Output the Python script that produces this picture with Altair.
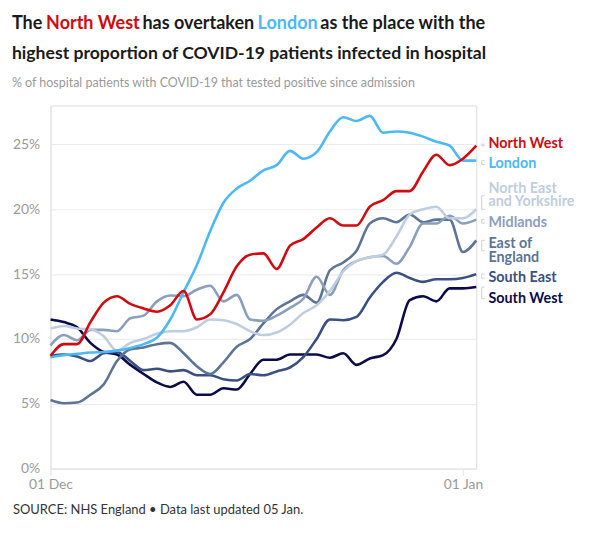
import altair as alt
import pandas as pd

# ---------------- data ----------------
dates = pd.date_range("2020-12-01", "2021-01-02", freq="D").strftime("%Y-%m-%d").tolist()

regions = ["North West", "London", "North East and Yorkshire", "Midlands",
           "East of England", "South East", "South West"]

north_west = [8.7, 9.6, 9.6, 11.3, 12.8, 13.3, 12.7, 12.35, 12.1, 12.6, 13.7, 11.5, 11.9,
              13.6, 15.6, 16.5, 16.6, 15.4, 17.2, 17.7, 18.6, 19.3, 18.75, 18.75, 20.2,
              20.7, 21.4, 21.4, 22.9, 24.2, 23.4, 23.9, 24.9]
london = [8.6, 8.75, 8.85, 8.95, 9.0, 9.1, 9.3, 9.6, 10.1, 11.5, 13.6, 15.7, 18.3, 20.5,
          21.6, 22.2, 23.0, 23.4, 24.5, 23.9, 24.4, 26.0, 27.1, 26.8, 27.2, 25.9, 26.0,
          25.9, 25.6, 25.2, 24.9, 23.75, 23.75]
north_east_yorks = [10.8, 11.0, 10.8, 10.75, 10.2, 9.1, 9.7, 10.0, 10.4, 10.6, 10.6, 10.9,
                    11.5, 11.45, 11.15, 10.6, 10.3, 10.5, 11.1, 12.0, 12.6, 13.7, 15.2,
                    16.0, 16.3, 16.5, 17.9, 19.6, 20.0, 20.2, 19.3, 19.3, 20.0]
midlands = [9.5, 10.3, 9.9, 10.7, 10.7, 10.6, 11.6, 11.8, 12.9, 13.35, 13.3, 13.8, 14.1,
            12.9, 13.4, 11.5, 11.4, 11.8, 12.4, 13.1, 14.8, 13.4, 15.3, 16.0, 16.3, 16.4,
            15.8, 17.1, 18.9, 18.9, 19.5, 18.9, 19.2]
east_of_england = [5.3, 5.05, 5.1, 5.7, 6.5, 8.3, 9.2, 9.35, 9.6, 9.7, 8.9, 7.9, 7.3, 8.2,
                   9.4, 10.0, 11.2, 12.3, 12.9, 13.4, 12.8, 15.3, 15.9, 16.8, 18.9, 19.3,
                   19.0, 19.6, 19.0, 19.2, 19.2, 16.7, 17.6]
south_east = [8.7, 8.8, 8.65, 8.3, 8.9, 9.0, 8.3, 7.6, 7.7, 7.5, 7.6, 7.2, 7.2, 6.9, 6.8,
              7.3, 7.2, 7.5, 7.8, 8.6, 10.0, 11.5, 11.45, 11.7, 13.2, 14.4, 15.1, 14.7,
              14.4, 14.6, 14.6, 14.7, 15.0]
south_west = [11.5, 11.3, 10.9, 9.7, 9.0, 8.8, 8.0, 7.3, 6.65, 6.3, 6.7, 5.7, 5.7, 6.2, 6.1,
              7.3, 8.4, 8.4, 8.8, 8.8, 8.8, 8.55, 8.9, 8.0, 8.5, 8.75, 10.0, 13.0, 13.3,
              12.9, 13.9, 13.9, 14.0]

series = [north_west, london, north_east_yorks, midlands, east_of_england, south_east, south_west]

label_texts = ["North West", "London", "North East\nand Yorkshire", "Midlands",
               "East of\nEngland", "South East", "South West"]

y_ticks = [0, 5, 10, 15, 20, 25]

# ---------------- styling / layout ----------------
colors = ["#d10a0f", "#4cb8f6", "#bfcde0", "#8a9fbb", "#5c7496", "#3a5082", "#0b0b4b"]
leader_y = [25.02, 23.45, 21.04, 18.93, 16.8, 14.69, 13.11]      # leader targets (% units)
label_text_y = [25.02, 23.45, 21.55, 18.93, 17.28, 14.69, 13.11]  # first text line (% units)

W, H = 430.7, 367.4
FONT = "Lato"

rows = []
for reg, vals in reversed(list(zip(regions, series))):
    for d, v in zip(dates, vals):
        rows.append({"region": reg, "date": d, "value": v})
df = pd.DataFrame(rows)

leaders = pd.DataFrame({
    "region": regions,
    "label": label_texts,
    "y_end": [s[-1] for s in series],
    "y_lead": leader_y,
    "y_text": label_text_y,
})

x_scale = alt.Scale(type="utc",
                    domain=[alt.DateTime(year=2020, month=12, date=1, utc=True),
                            alt.DateTime(year=2021, month=1, date=2, utc=True)])
y_scale = alt.Scale(domain=[0, 28], nice=False)
color_scale = alt.Scale(domain=regions, range=colors)

x_axis = alt.Axis(values=[alt.DateTime(year=2020, month=12, date=1, utc=True),
                          alt.DateTime(year=2021, month=1, date=1, utc=True)],
                  labelExpr="utcFormat(datum.value, '%d %b')", title=None, domain=False,
                  grid=False, ticks=True, tickSize=7, tickColor="#e3e3e3",
                  labelColor="#9a9a9a", labelFontSize=14, labelPadding=2,
                  labelFlush=False, labelFont=FONT)
y_axis = alt.Axis(values=y_ticks, labelExpr="datum.value + '%'", title=None,
                  grid=True, gridColor="#e9e9e9", domain=True, domainColor="#e6e6e6",
                  ticks=False, labelPadding=11, labelColor="#9a9a9a",
                  labelFontSize=14, labelFont=FONT)

lines = alt.Chart(df).mark_line(interpolate="monotone", strokeWidth=2.6).encode(
    x=alt.X("date:T", scale=x_scale, axis=x_axis),
    y=alt.Y("value:Q", scale=y_scale, axis=y_axis),
    color=alt.Color("region:N", scale=color_scale, legend=None),
    detail="region:N",
)

base_lead = alt.Chart(leaders)
lead_v = base_lead.mark_rule(color="#cfcfcf", strokeWidth=1).encode(
    x=alt.value(W + 5.5),
    y=alt.Y("y_end:Q", scale=y_scale), y2="y_lead:Q")
lead_a = base_lead.mark_rule(color="#cfcfcf", strokeWidth=1).encode(
    x=alt.value(W + 5.5), x2=alt.value(W + 8.5), y=alt.Y("y_end:Q", scale=y_scale))
lead_b = base_lead.mark_rule(color="#cfcfcf", strokeWidth=1).encode(
    x=alt.value(W + 5.5), x2=alt.value(W + 8.5), y=alt.Y("y_lead:Q", scale=y_scale))

labels = base_lead.mark_text(align="left", baseline="middle", fontSize=14.5,
                             fontWeight="bold", font=FONT, lineBreak="\n",
                             lineHeight=13.3).encode(
    x=alt.value(W + 12.3),
    y=alt.Y("y_text:Q", scale=y_scale),
    text="label:N",
    color=alt.Color("region:N", scale=color_scale, legend=None),
)

one = pd.DataFrame({"k": [0]})


def txt(s, px, py, color, size, weight="normal"):
    return alt.Chart(one).mark_text(align="left", baseline="alphabetic", fontSize=size,
                                    fontWeight=weight, font=FONT, color=color).encode(
        x=alt.value(px), y=alt.value(py), text=alt.value(s))


TS = 18.2
L1 = -76.9
title_parts = [
    txt("The", -39, L1, "#1a1a1a", TS, "bold"),
    txt("North West", -4.5, L1, "#d10a0f", TS, "bold"),
    txt("has overtaken", 93, L1, "#1a1a1a", TS, "bold"),
    txt("London", 209.5, L1, "#4cb8f6", TS, "bold"),
    txt("as the place with the", 273, L1, "#1a1a1a", TS, "bold"),
    txt("highest proportion of COVID-19 patients infected in hospital", -39, -46.9,
        "#1a1a1a", 17.8, "bold"),
    txt("% of hospital patients with COVID-19 that tested positive since admission",
        -39, -18.6, "#9a9a9a", 12.6),
    txt("SOURCE: NHS England \u2022 Data last updated 05 Jan.", -38, 413.4, "#333333", 13.1),
]

chart = alt.layer(lines, lead_v, lead_a, lead_b, labels, *title_parts).properties(
    width=W, height=H,
    autosize=alt.AutoSizeParams(type="none"),
    padding={"left": 43, "top": 95.6, "right": 110, "bottom": 58},
).configure_view(stroke="transparent").configure(font=FONT)

chart.save("out.html", embed_options={"renderer": "svg", "actions": False})
